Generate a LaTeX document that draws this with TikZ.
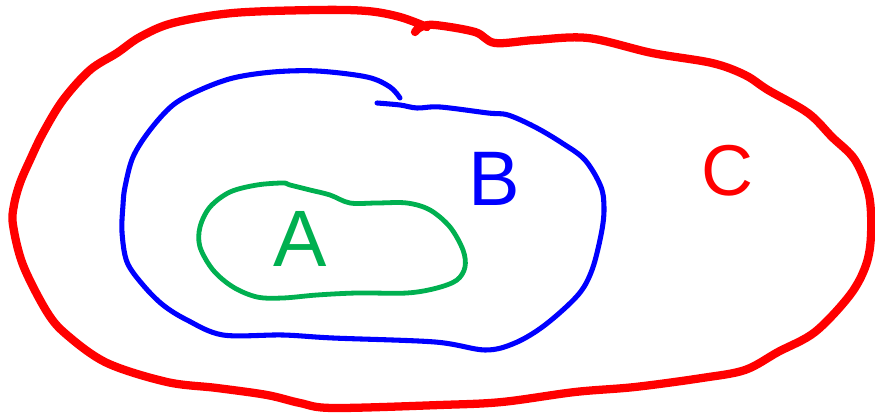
\documentclass[tikz,border=0pt]{standalone}
\usepackage{fontspec}
\setsansfont{Liberation Sans}

\tikzset{every picture/.style={line width=0.75pt}}
\tikzset{
  redline/.style={color={rgb, 255:red, 255; green, 0; blue, 0 }, line width=6.2pt, line cap=round, line join=round},
  blueline/.style={color={rgb, 255:red, 0; green, 0; blue, 255 }, line width=3.8pt, line cap=round, line join=round},
  greenline/.style={color={rgb, 255:red, 0; green, 176; blue, 80 }, line width=3.6pt, line cap=round, line join=round},
  letter/.style={inner sep=0.75pt, font=\sffamily}
}

\begin{document}
\begin{tikzpicture}[x=0.75pt,y=0.75pt,yscale=-1,xscale=1]
\useasboundingbox (0,0) rectangle (875,416);

%Shape: Curve (set C)
\draw [redline] plot [smooth, tension=0.55] coordinates {(415,32) (421,27) (435,25) (475,32) (495,43) (535,40) (588,38) (652,53) (712,63) (745,75) (768,90) (808,113) (832,137) (855,160) (869,195) (871,235) (866,265) (850,295) (815,332) (778,352) (745,370) (702,378) (635,387) (575,392) (502,402) (440,405) (333,408) (300,403) (267,395) (217,388) (167,382) (107,363) (67,335) (47,312) (23,265) (13,225) (14,205) (20,183) (30,160) (43,133) (63,100) (90,70) (117,53) (140,37) (173,23) (233,13) (317,10) (367,11) (400,17) (427,27)};

%Shape: Curve (set B)
\draw [blueline] plot [smooth, tension=0.55] coordinates {(377,103) (400,105) (417,108) (440,107) (488,113) (508,115) (535,127) (562,143) (585,160) (601,187) (604,210) (601,235) (592,270) (578,295) (545,325) (515,343) (485,350) (435,342) (333,338) (283,335) (223,335) (187,320) (163,305) (143,285) (127,262) (122,232) (123,205) (125,187) (133,157) (150,130) (173,105) (200,90) (233,78) (273,72) (317,71) (367,77) (390,87) (400,98)};

%Shape: Curve (set A)
\draw [greenline] plot [smooth cycle, tension=0.55] coordinates {(290,185) (310,190) (330,195) (350,203) (377,203) (407,203) (430,210) (450,227) (463,250) (465,267) (457,280) (437,288) (407,293) (357,293) (317,295) (283,298) (257,297) (233,287) (213,270) (200,247) (200,227) (210,207) (230,192) (257,185) (283,183)};

% Text Node
\draw (300,239) node [letter, text={rgb, 255:red, 0; green, 176; blue, 80 }, font=\sffamily\fontsize{60}{60}\selectfont] (lblA) {A};
% Text Node
\draw (494,179) node [letter, text={rgb, 255:red, 0; green, 0; blue, 255 }, font=\sffamily\fontsize{58}{58}\selectfont] (lblB) {B};
% Text Node
\draw (727,171) node [letter, text={rgb, 255:red, 255; green, 0; blue, 0 }, font=\sffamily\fontsize{54}{54}\selectfont] (lblC) {C};

\end{tikzpicture}
\end{document}
